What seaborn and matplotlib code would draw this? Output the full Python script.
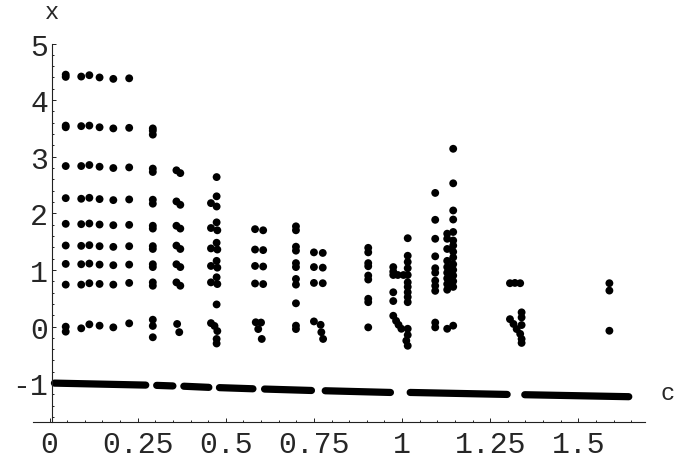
import numpy as np
import pandas as pd
import matplotlib
matplotlib.use("Agg")
import matplotlib.pyplot as plt
import seaborn as sns
from matplotlib.ticker import FixedLocator, MultipleLocator

sns.set_style("white")
plt.rcParams["font.family"] = ["Liberation Mono", "DejaVu Sans"]

# ---------------- data ----------------
# regular columns: one c value each
c_col1 = 0.046
x_col1 = [4.45, 4.41, 3.55, 3.52, 2.835, 2.268, 1.814, 1.431, 1.106, 0.74, -0.003, -0.091]
c_col2 = 0.090
x_col2 = [4.416, 3.54, 2.835, 2.257, 1.808, 1.425, 1.10, 0.74, -0.032]
c_col3 = 0.113
x_col3 = [4.44, 3.55, 2.853, 2.274, 1.82, 1.437, 1.112, 0.764, 0.038]
c_col4 = 0.142
x_col4 = [4.40, 3.52, 2.823, 2.251, 1.802, 1.419, 1.094, 0.752, 0.015]
c_col5 = 0.181
x_col5 = [4.375, 3.50, 2.80, 2.233, 1.79, 1.407, 1.083, 0.74, -0.015]
c_col6 = 0.226
x_col6 = [4.385, 3.51, 2.811, 2.245, 1.796, 1.419, 1.094, 0.77, 0.056]
c_col7 = 0.293
x_col7 = [3.50, 3.46, 3.39, 2.79, 2.73, 2.24, 2.17, 1.78, 1.73, 1.42, 1.37,
          1.10, 1.05, 0.78, 0.72, 0.12, 0.01, -0.19]

# irregular columns: explicit c for every point
c_col8 = [0.360, 0.371, 0.360, 0.371, 0.360, 0.371, 0.360, 0.371, 0.360, 0.371, 0.360, 0.371, 0.362, 0.368]
x_col8 = [2.76, 2.71, 2.21, 2.15, 1.78, 1.73, 1.43, 1.37, 1.10, 1.05, 0.78, 0.72, 0.045, -0.10]

c_col9 = [0.474, 0.474, 0.458, 0.474, 0.474, 0.458, 0.476, 0.474, 0.458, 0.476, 0.474,
          0.458, 0.476, 0.474, 0.458, 0.476, 0.474, 0.458, 0.468, 0.476, 0.474, 0.474]
x_col9 = [2.64, 2.30, 2.18, 2.12, 1.84, 1.74, 1.70, 1.48, 1.38, 1.36, 1.16,
          1.07, 1.04, 0.87, 0.78, 0.75, 0.39, 0.06, 0.01, -0.08, -0.22, -0.30]

c_col10 = [0.583, 0.606, 0.583, 0.606, 0.583, 0.606, 0.583, 0.606, 0.585, 0.600, 0.592, 0.602]
x_col10 = [1.72, 1.70, 1.36, 1.35, 1.07, 1.06, 0.76, 0.75, 0.075, 0.07, -0.045, -0.22]

c_col11 = 0.699
x_col11 = [1.77, 1.70, 1.41, 1.34, 1.12, 1.05, 0.84, 0.74, 0.41, 0.015, -0.045]

c_col12 = [0.750, 0.775, 0.750, 0.775, 0.750, 0.775, 0.750, 0.769, 0.771, 0.776]
x_col12 = [1.31, 1.30, 1.05, 1.04, 0.77, 0.765, 0.09, 0.03, -0.10, -0.22]

c_col13 = 0.904
x_col13 = [1.39, 1.31, 1.12, 1.065, 0.90, 0.83, 0.49, 0.43, -0.015]

c_col14 = [1.016, 1.016, 1.016, 1.016, 0.975, 0.975, 0.975, 0.988, 1.004, 1.016, 1.016, 1.016,
           0.975, 1.016, 1.016, 0.975, 1.016,
           0.975, 0.983, 0.990, 0.998, 1.016, 1.016, 1.012, 1.016]
x_col14 = [1.56, 1.25, 1.14, 1.03, 1.05, 0.97, 0.91, 0.91, 0.91, 0.91, 0.78, 0.70,
           0.605, 0.605, 0.52, 0.45, 0.43,
           0.19, 0.10, 0.03, -0.04, -0.04, -0.15, -0.25, -0.34]

c_col15 = 1.094
x_col15 = [2.36, 1.885, 1.55, 1.24, 1.03, 0.95, 0.81, 0.72, 0.63, 0.07, -0.015]

c_col16 = [1.145, 1.145, 1.145, 1.145, 1.145, 1.145, 1.145, 1.145, 1.145, 1.145, 1.145, 1.145, 1.145, 1.145, 1.145,
           1.128, 1.128, 1.128, 1.128, 1.128, 1.128, 1.128, 1.128, 1.128, 1.128,
           1.136, 1.136, 1.136, 1.136]
x_col16 = [3.14, 2.53, 2.05, 1.89, 1.67, 1.52, 1.43, 1.32, 1.22, 1.10, 1.00, 0.90, 0.80, 0.70, 0.015,
           1.64, 1.55, 1.37, 1.16, 1.05, 0.95, 0.85, 0.75, 0.65, -0.04,
           1.02, 0.92, 0.82, 0.72]

c_col17 = [1.306, 1.320, 1.335, 1.339, 1.339, 1.306, 1.316, 1.325, 1.335, 1.339, 1.339, 1.339]
x_col17 = [0.765, 0.77, 0.765, 0.25, 0.16, 0.13, 0.045, -0.045, -0.13, 0.026, -0.22, -0.29]

c_col18 = 1.588
x_col18 = [0.765, 0.635, -0.075]

# the dense band near x = -1 : centres of the first and last dot of each run
band_c_start = [0.014, 0.304, 0.381, 0.482, 0.610, 0.782, 1.023, 1.348]
band_c_end   = [0.273, 0.350, 0.452, 0.577, 0.743, 0.967, 1.298, 1.643]
band_x_start = [-1.000, -1.040, -1.055, -1.080, -1.105, -1.135, -1.165, -1.205]
band_x_end   = [-1.035, -1.050, -1.075, -1.100, -1.130, -1.165, -1.200, -1.240]

x_ticks = [0, 0.25, 0.5, 0.75, 1, 1.25, 1.5]
x_tick_labels = ["0", "0.25", "0.5", "0.75", "1", "1.25", "1.5"]
y_ticks = [-1, 0, 1, 2, 3, 4, 5]
y_tick_labels = ["-1", "0", "1", "2", "3", "4", "5"]

# ---------------- build tables ----------------
cols = [(c_col1, x_col1), (c_col2, x_col2), (c_col3, x_col3), (c_col4, x_col4),
        (c_col5, x_col5), (c_col6, x_col6), (c_col7, x_col7), (c_col8, x_col8),
        (c_col9, x_col9), (c_col10, x_col10), (c_col11, x_col11), (c_col12, x_col12),
        (c_col13, x_col13), (c_col14, x_col14), (c_col15, x_col15), (c_col16, x_col16),
        (c_col17, x_col17), (c_col18, x_col18)]
frames = []
for cc, xx in cols:
    cc_arr = np.broadcast_to(np.asarray(cc, dtype=float), (len(xx),))
    frames.append(pd.DataFrame({"c": cc_arr, "x": xx}))
pts = pd.concat(frames, ignore_index=True)

band = pd.DataFrame({
    "c": band_c_start + band_c_end,
    "x": band_x_start + band_x_end,
    "seg": list(range(len(band_c_start))) * 2,
})

# ---------------- figure ----------------
W, H = 681, 460
fig = plt.figure(figsize=(W / 100, H / 100), dpi=100)
ax = fig.add_axes([33 / W, 37 / H, 612 / W, 378.5 / H])

sns.lineplot(data=band, x="c", y="x", units="seg", estimator=None, sort=True,
             color="black", lw=5.2, solid_capstyle="round", ax=ax, legend=False)
sns.scatterplot(data=pts, x="c", y="x", s=32, color="black", edgecolor="none",
                linewidth=0, ax=ax, legend=False)

ax.set_xlim(-0.0468, 1.689)
ax.set_ylim(-1.687, 5.0)
ax.set_xlabel("")
ax.set_ylabel("")

for s in ["top", "right"]:
    ax.spines[s].set_visible(False)
ax.spines["left"].set_position(("data", 0.006))
for s in ["left", "bottom"]:
    ax.spines[s].set_color("#222222")
    ax.spines[s].set_linewidth(0.8)

ax.xaxis.set_major_locator(FixedLocator(x_ticks))
ax.set_xticklabels(x_tick_labels)
ax.yaxis.set_major_locator(FixedLocator(y_ticks))
ax.set_yticklabels(y_tick_labels)
ax.xaxis.set_minor_locator(MultipleLocator(0.05))
ax.yaxis.set_minor_locator(MultipleLocator(0.2))

ax.tick_params(which="both", direction="in", color="#222222", width=0.7,
               bottom=True, left=True, top=False, right=False)
ax.tick_params(which="major", length=3.0, labelsize=21.5)
ax.tick_params(which="minor", length=1.7)
ax.tick_params(axis="x", which="major", pad=6)
ax.tick_params(axis="y", which="major", pad=2.5)

fig.text(52 / W, (H - 19) / H, "x", ha="center", va="baseline", fontsize=17)
fig.text(668 / W, (H - 400) / H, "c", ha="center", va="baseline", fontsize=17)

fig.savefig("out.png", dpi=100)
